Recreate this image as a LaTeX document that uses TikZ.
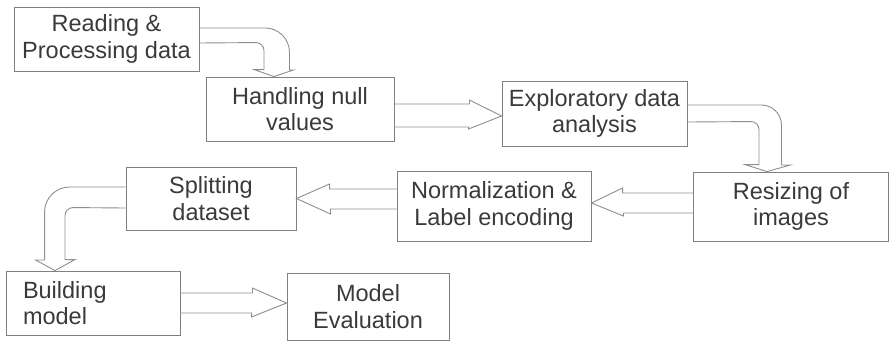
\documentclass[tikz,border=0pt]{standalone}
\usepackage{fontspec}
\setmainfont{Liberation Sans}
\definecolor{boxline}{HTML}{808080}
\definecolor{arrowline}{HTML}{8E8E8E}
\definecolor{txtgray}{HTML}{3A3A3A}
\begin{document}
\begin{tikzpicture}[
    x=1pt,y=-1pt,
    box/.style={draw=boxline,line width=0.9pt,inner sep=0pt,align=center,text=txtgray,font=\fontsize{23.5}{26.5}\selectfont},
    blockarrow/.style={draw=arrowline,line width=0.9pt,line join=miter}
]
\useasboundingbox (0,0) rectangle (890,341);

% Steps, in reading order
\node[box,minimum width=185pt,minimum height=64pt] (reading) at (106.5,39) {Reading \&\\Processing data};
\node[box,minimum width=188pt,minimum height=64pt] (handling) at (300,109) {Handling null\\values};
\node[box,minimum width=185pt,minimum height=65pt] (explor) at (594.5,113.5) {Exploratory data\\analysis};
\node[box,minimum width=195pt,minimum height=69pt] (resize) at (791,206.5) {Resizing of\\images};
\node[box,minimum width=194pt,minimum height=70pt] (norm) at (494,206) {Normalization \&\\Label encoding};
\node[box,minimum width=170pt,minimum height=63pt] (split) at (211,198.5) {Splitting\\dataset};
\node[box,minimum width=174pt,minimum height=64pt,text width=140pt,align=left] (build) at (93,303) {Building\\model};
\node[box,minimum width=162pt,minimum height=67pt] (evalm) at (368,306.5) {Model\\Evaluation};

% Block arrows
\draw[blockarrow] ([shift={(0,-11)}]reading.east) -- ++(66,0)
    .. controls +(13,0) and +(0,-13) .. ++(24,24) -- ++(0,18) -- ++(4,0)
    -- ([xshift=-26pt]handling.north) -- ++(-20,-7) -- ++(10,0) -- ++(0,-19)
    .. controls +(0,-4.4) and +(4.4,0) .. ++(-8,-8) -- ([shift={(0,4)}]reading.east);
\draw[blockarrow] ([shift={(0,-5)}]handling.east) -- ++(75,0) -- ++(0,-4)
    -- ([shift={(0,2.5)}]explor.west) -- ++(-33,13) -- ++(0,-2) -- ([shift={(0,18)}]handling.east);
\draw[blockarrow] ([shift={(0,-8.5)}]explor.east) -- ++(74,0)
    .. controls +(11,0) and +(0,-11) .. ++(20,20) -- ++(0,40) -- ++(9,0)
    -- ([xshift=-24pt]resize.north) -- ++(-22,-7) -- ++(14,0) -- ++(0,-35)
    .. controls +(0,-4.4) and +(4.4,0) .. ++(-8,-8) -- ([shift={(0,8.5)}]explor.east);
\draw[blockarrow] ([shift={(0,-13.5)}]resize.west) -- ++(-70.5,0) -- ++(0,-5)
    -- ([shift={(0,-3)}]norm.east) -- ++(32,13) -- ++(0,-3) -- ([shift={(0,6.5)}]resize.west);
\draw[blockarrow] ([shift={(0,-17)}]norm.west) -- ++(-67,0) -- ++(0,-5)
    -- (split.east) -- ++(34,15.5) -- ++(0,-5) -- ([shift={(0,3)}]norm.west);
\draw[blockarrow] ([shift={(0,-11.5)}]split.west) -- ++(-56,0)
    .. controls +(-13.8,0) and +(0,-13.8) .. ++(-25,25) -- ++(0,48) -- ++(-9,0)
    -- ([xshift=-38pt]build.north) -- ++(20,-11) -- ++(-10,0) -- ++(0,-44)
    .. controls +(0,-4.4) and +(-4.4,0) .. ++(8,-8) -- ([shift={(0,9.5)}]split.west);
\draw[blockarrow] ([shift={(0,-10)}]build.east) -- ++(72,0) -- ++(0,-5)
    -- ([shift={(0,-3.5)}]evalm.west) -- ++(-35,14) -- ++(0,-4) -- ([shift={(0,10)}]build.east);
\end{tikzpicture}
\end{document}
